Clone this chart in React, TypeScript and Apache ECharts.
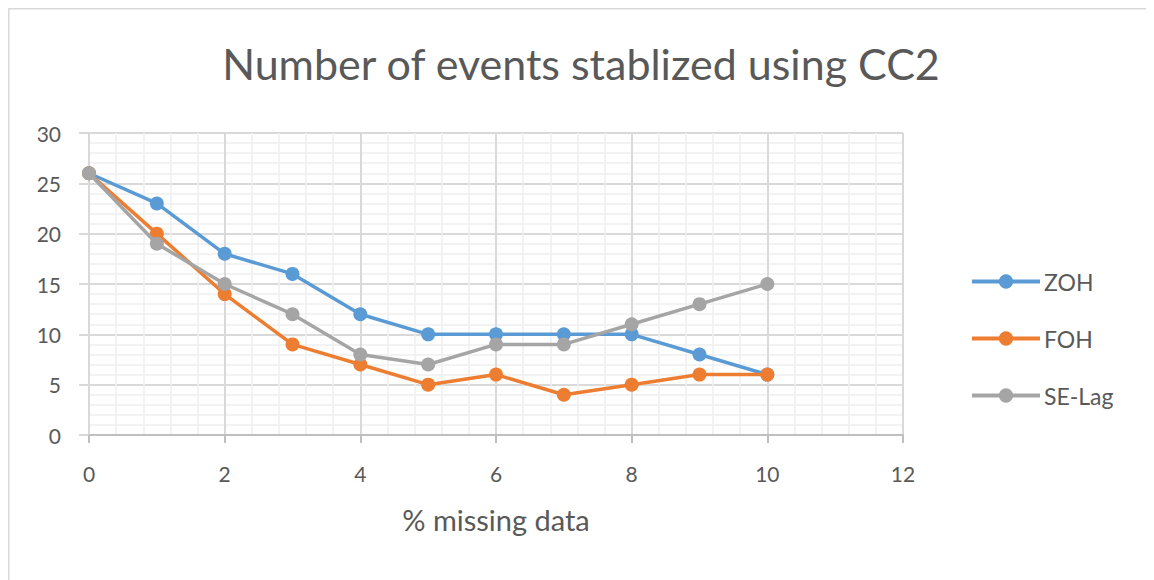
import React, { useEffect, useRef } from "react";
import * as echarts from "echarts";

const xValues = [0, 1, 2, 3, 4, 5, 6, 7, 8, 9, 10];
const zoh = [26, 23, 18, 16, 12, 10, 10, 10, 10, 8, 6];
const foh = [26, 20, 14, 9, 7, 5, 6, 4, 5, 6, 6];
const seLag = [26, 19, 15, 12, 8, 7, 9, 9, 11, 13, 15];
const seriesNames = ["ZOH", "FOH", "SE-Lag"];
const seriesColors = ["#5B9BD5", "#ED7D31", "#A5A5A5"];

const FONT = "Lato";
const TEXT = "#595959";

export default function App() {
  const ref = useRef<HTMLDivElement>(null);
  useEffect(() => {
    if (!ref.current) return;
    const chart = echarts.init(ref.current, null, { renderer: "svg" });
    const seriesData = [zoh, foh, seLag];
    chart.setOption({
      animation: false,
      backgroundColor: "#ffffff",
      title: {
        text: "Number of events stablized using CC2",
        left: "center",
        top: 29,
        textStyle: { fontFamily: FONT, fontSize: 43, fontWeight: "normal", color: TEXT },
      },
      graphic: [
        {
          type: "rect",
          shape: { x: 0.75, y: 0.75, width: 3000, height: 3000 },
          style: { fill: "none", stroke: "#d9d9d9", lineWidth: 1.5 },
          silent: true,
        },
      ],
      legend: {
        orient: "vertical",
        left: 962,
        top: 262,
        padding: 0,
        itemWidth: 68,
        itemHeight: 18,
        itemGap: 34,
        lineStyle: { width: 4 },
        textStyle: { fontFamily: FONT, fontSize: 23, color: TEXT, padding: [0, 0, 0, -1] },
        data: seriesNames,
      },
      grid: { left: 81, right: 251, top: 125, bottom: 145 },
      xAxis: {
        type: "value",
        min: 0,
        max: 12,
        interval: 2,
        name: "% missing data",
        nameLocation: "middle",
        nameGap: 70,
        nameTextStyle: { fontFamily: FONT, fontSize: 29, color: TEXT },
        axisLine: { show: true, lineStyle: { color: "#bfbfbf", width: 2 } },
        axisTick: { show: true, length: 8, lineStyle: { color: "#bfbfbf", width: 2 } },
        axisLabel: { fontFamily: FONT, fontSize: 21, color: TEXT, margin: 28 },
        splitLine: { show: true, lineStyle: { color: "#d9d9d9", width: 2 } },
        minorTick: { show: false, splitNumber: 5 },
        minorSplitLine: { show: true, lineStyle: { color: "#efefef", width: 1.5 } },
      },
      yAxis: {
        type: "value",
        min: 0,
        max: 30,
        interval: 5,
        axisLine: { show: false },
        axisTick: { show: true, length: 10, lineStyle: { color: "#d9d9d9", width: 2 } },
        axisLabel: { fontFamily: FONT, fontSize: 21, color: TEXT, margin: 28 },
        splitLine: { show: true, lineStyle: { color: "#d9d9d9", width: 2 } },
        minorTick: { show: false, splitNumber: 5 },
        minorSplitLine: { show: true, lineStyle: { color: "#efefef", width: 1.5 } },
      },
      series: seriesNames.map((name, i) => ({
        name,
        type: "line",
        data: xValues.map((x, j) => [x, seriesData[i][j]]),
        symbol: "circle",
        symbolSize: 14,
        color: seriesColors[i],
        lineStyle: { width: 3.5, color: seriesColors[i] },
        itemStyle: { color: seriesColors[i] },
        z: 2 + i,
      })),
    });
    return () => chart.dispose();
  }, []);
  return <div ref={ref} style={{ width: 1146, height: 572 }} />;
}
